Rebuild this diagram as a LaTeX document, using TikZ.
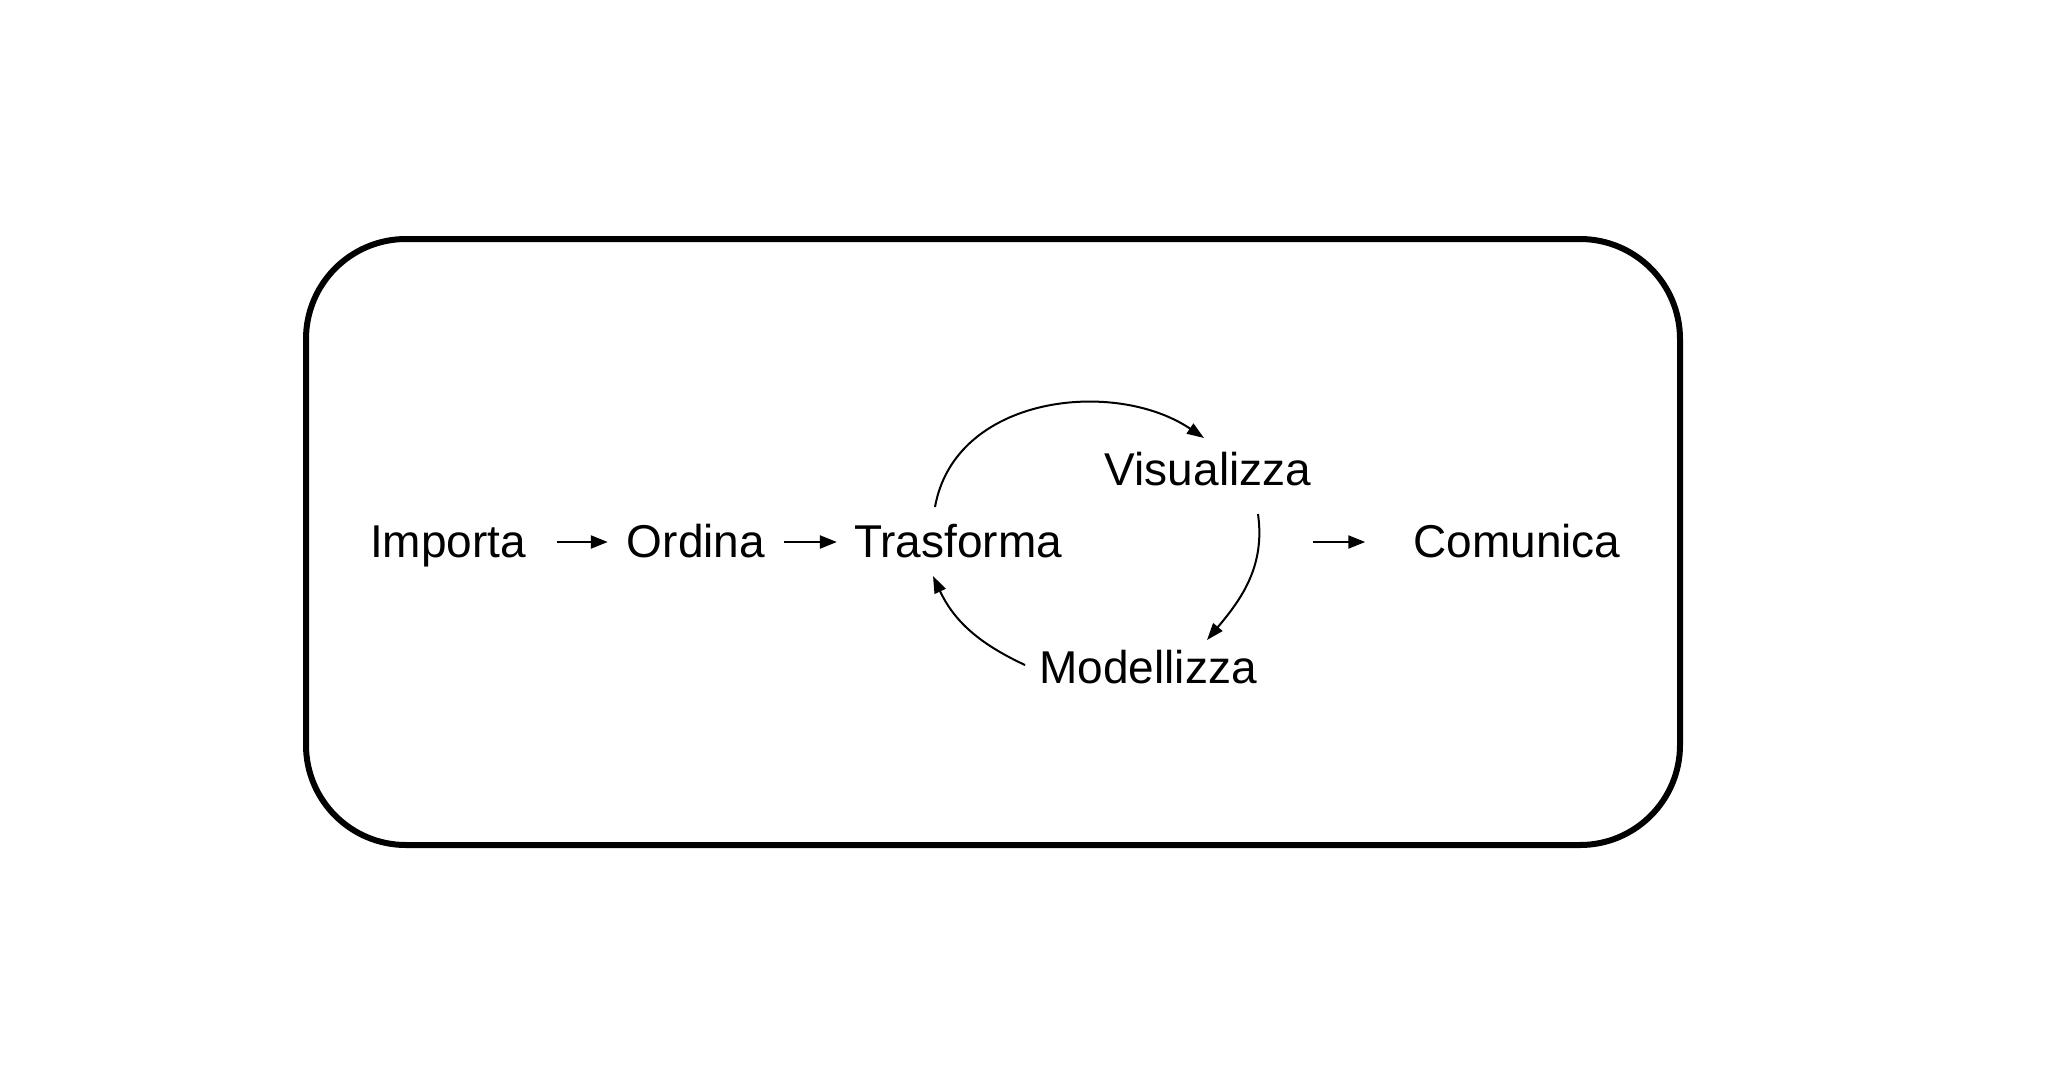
\documentclass[tikz,border=0pt]{standalone}
\usepackage{fontspec}
\setmainfont{Liberation Sans}
\usetikzlibrary{arrows.meta}
\begin{document}
\begin{tikzpicture}[x=1pt,y=-1pt,
  lbl/.style={anchor=base,inner sep=0pt,text height=30pt,text depth=0pt,font=\fontsize{46}{55}\selectfont},
  arr/.style={line width=2.2pt,-{Triangle[length=17pt,width=13pt]}},
  carr/.style={line width=2pt,-{Triangle[length=17pt,width=12pt]}}]
\useasboundingbox (0,0) rectangle (2057,1085);
\draw[line width=6pt,rounded corners=100pt] (306,239) rectangle (1680,845);
\node[lbl] (imp) at (448,557) {Importa};
\node[lbl] (ord) at (696,557) {Ordina};
\node[lbl] (tra) at (958,557) {Trasforma};
\node[lbl] (vis) at (1208,485) {Visualizza};
\node[lbl] (mod) at (1148,683) {Modellizza};
\node[lbl] (com) at (1517,557) {Comunica};
\draw[arr] ([xshift=31pt]imp.east) -- ([xshift=-19pt]ord.west);
\draw[arr] ([xshift=19pt]ord.east) -- ([xshift=-17pt]tra.west);
\draw[arr] ([xshift=-100pt]com.west) -- ([xshift=-48pt]com.west);
\coordinate (a1s) at (935,507);
\coordinate (a1e) at (1204,438);
\coordinate (a2s) at (1258,514);
\coordinate (a2e) at (1207,640);
\coordinate (a3s) at (1025,665);
\coordinate (a3e) at (933,576);
\draw[carr] (a1s) .. controls (955,395) and (1115,378) .. (a1e);
\draw[carr] (a2s) to[out=-82,in=50] (a2e);
\draw[carr] (a3s) to[out=155,in=-65] (a3e);
\end{tikzpicture}
\end{document}
